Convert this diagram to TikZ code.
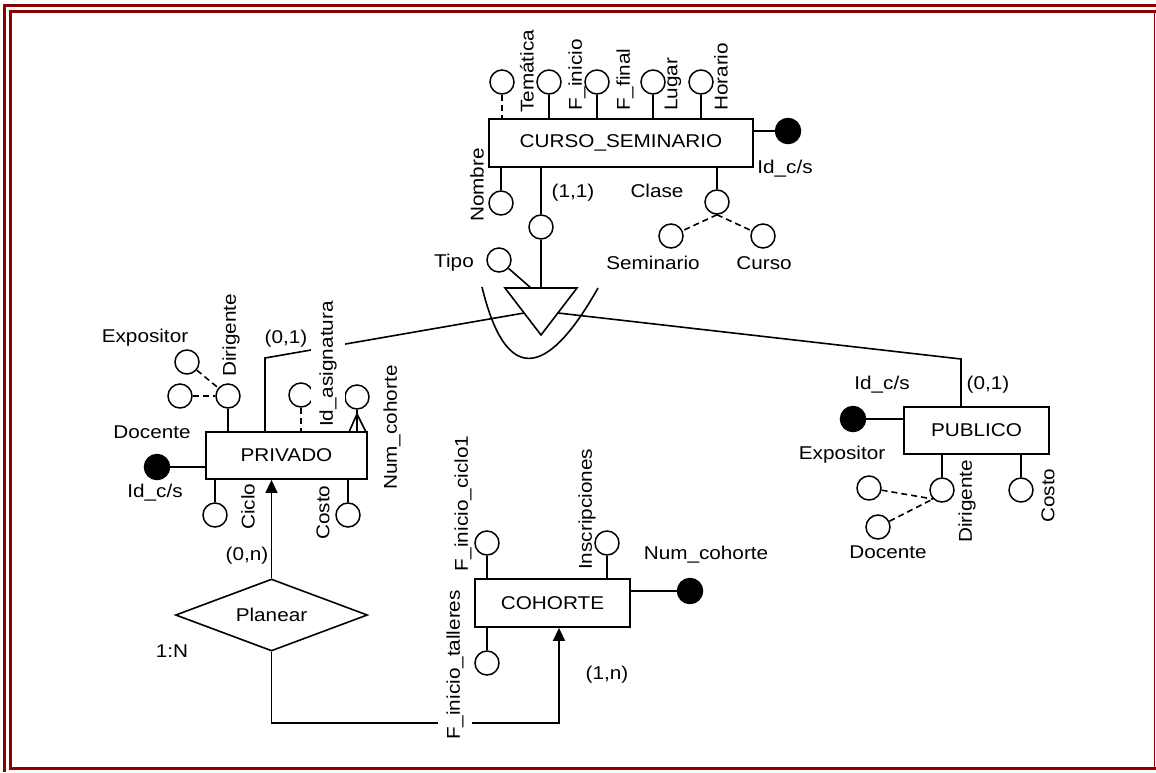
\documentclass[tikz,border=0pt]{standalone}
\usepackage{fontspec}
\setmainfont{Liberation Sans}[FakeStretch=1.12]
\usetikzlibrary{shapes.geometric,arrows.meta}
\definecolor{bordc}{RGB}{139,0,0}
\begin{document}
\begin{tikzpicture}[x=1pt,y=-1pt,
  font=\fontsize{18.5}{22}\selectfont,
  ent/.style={draw, line width=1.8pt, inner sep=0pt},
  attr/.style={circle, draw, line width=1.5pt, minimum size=24pt, inner sep=0pt},
  keyattr/.style={attr, fill=black, minimum size=25pt},
  conn/.style={line width=1.6pt},
  dconn/.style={conn, dash pattern=on 6pt off 4pt},
  lbl/.style={inner sep=0pt},
  rlbl/.style={rotate=90, anchor=west, inner sep=0pt},
  rlblw/.style={rlbl, fill=white, inner ysep=8pt},
  arr/.style={conn, -{Triangle[length=13pt,width=12pt]}},
  bord/.style={draw=bordc, line width=3pt}]
\useasboundingbox (0,0) rectangle (1156,772);
% border
\draw[bord] (4.5,772) -- (4.5,5.5) -- (1156,5.5);
\draw[bord] (10,768.5) -- (10,11) -- (1156,11);
\draw[bord] (8.5,768.5) -- (1156,768.5);
\draw[draw=bordc, line width=1.5pt] (1154.5,11) -- (1154.5,768.5);

% entities
\node[ent, minimum width=264pt, minimum height=48pt] (cs) at (621,143) {CURSO\_SEMINARIO};
\node[ent, minimum width=161pt, minimum height=47pt] (privado) at (286.5,455.5) {PRIVADO};
\node[ent, minimum width=145pt, minimum height=47pt] (publico) at (976.5,430.5) {PUBLICO};
\node[ent, minimum width=155pt, minimum height=48pt] (cohorte) at (552.5,603) {COHORTE};
\node[diamond, draw, line width=1.6pt, minimum width=192pt, minimum height=72pt, inner sep=0pt, shape aspect=2.67] (planear) at (271.5,615) {Planear};

% attributes of CURSO_SEMINARIO
\node[attr] (t1) at (502,82) {};
\node[attr] (t2) at (549,82) {};
\node[attr] (t3) at (597,82) {};
\node[attr] (t4) at (653,82) {};
\node[attr] (t5) at (701,82) {};
\node[keyattr] (idcs) at (788,131) {};
\node[attr] (nombre) at (501,203) {};
\node[attr] (c11) at (541,227) {};
\node[attr] (clase) at (717,202) {};
\node[attr] (sem) at (671,236) {};
\node[attr] (cur) at (763,236) {};
\node[attr] (tipo) at (499,260) {};

% PRIVADO attributes
\node[attr] (exp1) at (187,362) {};
\node[attr] (doc1) at (180,396) {};
\node[attr] (dir1) at (228,396) {};
\node[attr] (idasig) at (301,395) {};
\node[attr] (numc) at (357,397) {};
\node[keyattr] (idp) at (157,467) {};
\node[attr] (ciclo) at (215,515) {};
\node[attr] (costo1) at (348,515) {};

% PUBLICO attributes
\node[keyattr] (idpub) at (853,419) {};
\node[attr] (exp2) at (869,488) {};
\node[attr] (doc2) at (878,527) {};
\node[attr] (dir2) at (942,490) {};
\node[attr] (costo2) at (1021,490) {};

% COHORTE attributes
\node[attr] (fic) at (487,543) {};
\node[attr] (insc) at (607,543) {};
\node[attr] (fit) at (487,663) {};
\node[keyattr] (numc2) at (690,591) {};

% specialization triangle and curve
\coordinate (tA) at (505,288);
\coordinate (tB) at (577,288);
\coordinate (tC) at (541,335);
\coordinate (ttop) at (541,288);
\coordinate (tipoend) at (531,288);
\coordinate (tleft) at (524,313);
\coordinate (tright) at (558,313);
\coordinate (u1) at (482,287);
\coordinate (u2) at (598,288);
\coordinate (pc) at (265,358);
\coordinate (qc) at (961,359);
\draw[conn] (tA) -- (tB) -- (tC) -- cycle;
\draw[conn] (u1) .. controls (505,382) and (545,382) .. (u2);

% connectors CURSO_SEMINARIO
\draw[dconn] (t1) -- (t1 |- cs.north);
\foreach \n in {t2,t3,t4,t5} \draw[conn] (\n) -- (\n |- cs.north);
\draw[conn] (idcs) -- (idcs -| cs.east);
\draw[conn] (nombre) -- (nombre |- cs.south);
\draw[conn] (c11) -- (c11 |- cs.south);
\draw[conn] (c11) -- (ttop);
\draw[conn] (clase) -- (clase |- cs.south);
\draw[dconn] (clase.south) -- (sem);
\draw[dconn] (clase.south) -- (cur);
\draw[conn] (tipo) -- (tipoend);

% to subclasses
\draw[conn] (tleft) -- (pc) -- (pc |- privado.north);
\draw[conn] (tright) -- (qc) -- (qc |- publico.north);

% PRIVADO connectors
\draw[dconn] (exp1) -- (dir1);
\draw[dconn] (doc1) -- (dir1);
\draw[conn] (dir1) -- (dir1 |- privado.north);
\draw[dconn] (idasig) -- (idasig |- privado.north);
\draw[conn] (numc) -- (numc |- privado.north);
\coordinate (nap) at (357,414);
\coordinate (na1) at (349,432);
\coordinate (na2) at (366,432);
\draw[conn] (na1) -- (nap) -- (na2);
\draw[conn] (idp) -- (idp -| privado.west);
\draw[conn] (ciclo) -- (ciclo |- privado.south);
\draw[conn] (costo1) -- (costo1 |- privado.south);

% PUBLICO connectors
\draw[conn] (idpub) -- (idpub -| publico.west);
\draw[dconn] (exp2) -- (dir2.-135);
\draw[dconn] (doc2) -- (dir2.-135);
\draw[conn] (dir2) -- (dir2 |- publico.south);
\draw[conn] (costo2) -- (costo2 |- publico.south);

% COHORTE connectors
\draw[conn] (fic) -- (fic |- cohorte.north);
\draw[conn] (insc) -- (insc |- cohorte.north);
\draw[conn] (fit) -- (fit |- cohorte.south);
\draw[conn] (numc2) -- (numc2 -| cohorte.east);

% relationship
\draw[arr] (planear.north) -- (planear.north |- privado.south);
\coordinate (b1) at (271.5,723);
\coordinate (b2) at (559,723);
\draw[arr] (planear.south) -- (b1) -- (b2) -- (b2 |- cohorte.south);

% labels
\node[lbl] (l1) at (785,169) {Id\_c/s};
\node[lbl] (l2) at (573,193) {(1,1)};
\node[lbl] (l3) at (657,191) {Clase};
\node[lbl] (l4) at (653,263) {Seminario};
\node[lbl] (l5) at (764,263) {Curso};
\node[lbl] (l6) at (454,263) {Tipo};
\node[lbl] (l7) at (145,338) {Expositor};
\node[lbl] (l8) at (152,432) {Docente};
\node[lbl] (l9) at (155,493) {Id\_c/s};
\node[lbl] (l10) at (286,339) {(0,1)};
\node[lbl] (l11) at (247,556) {(0,n)};
\node[lbl] (l12) at (172,651) {1:N};
\node[lbl] (l13) at (607,675) {(1,n)};
\node[lbl] (l14) at (706,555) {Num\_cohorte};
\node[lbl] (l15) at (882,385) {Id\_c/s};
\node[lbl] (l16) at (988,385) {(0,1)};
\node[lbl] (l17) at (842,455) {Expositor};
\node[lbl] (l18) at (888,552) {Docente};

% rotated labels
\node[rlbl] (r1) at (527,113) {Temática};
\node[rlbl] (r2) at (577,111) {F\_inicio};
\node[rlbl] (r3) at (625,111) {F\_final};
\node[rlbl] (r4) at (673,111) {Lugar};
\node[rlbl] (r5) at (721,111) {Horario};
\node[rlbl] (r6) at (477,222) {Nombre};
\node[rlbl] (r7) at (231,377) {Dirigente};
\node[rlblw] (r8) at (328,427) {Id\_asignatura};
\node[rlbl] (r9) at (392,490) {Num\_cohorte};
\node[rlbl] (r10) at (248,530) {Ciclo};
\node[rlbl] (r11) at (323,540) {Costo};
\node[rlblw] (r12) at (455,740) {F\_inicio\_talleres};
\node[rlbl] (r13) at (463,572) {F\_inicio\_ciclo1};
\node[rlbl] (r14) at (587,570) {Inscripciones};
\node[rlbl] (r15) at (967,543) {Dirigente};
\node[rlbl] (r16) at (1048,523) {Costo};
\end{tikzpicture}
\end{document}
